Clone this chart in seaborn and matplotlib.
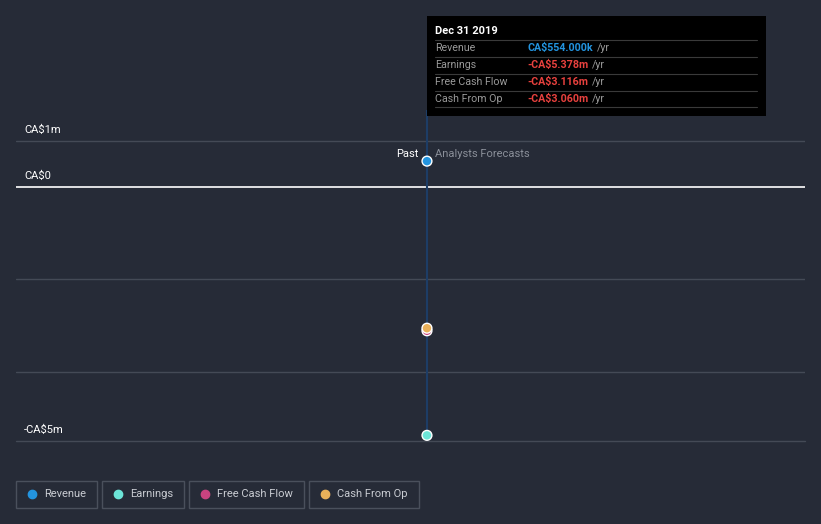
import matplotlib
matplotlib.use("Agg")
import matplotlib.pyplot as plt
from matplotlib.patches import Rectangle
from matplotlib.lines import Line2D
import seaborn as sns
import pandas as pd

# Data (CA$ millions, Dec 31 2019)
series = ["Revenue", "Earnings", "Free Cash Flow", "Cash From Op"]
values = [0.554, -5.378, -3.116, -3.060]
value_labels = ["CA\\$554.000k", "-CA\\$5.378m", "-CA\\$3.116m", "-CA\\$3.060m"]
colors = ["#2394df", "#6ce5d8", "#c8437f", "#e8b05a"]
date_label = "Dec 31 2019"
x_pos = [2019.99]
grid_vals = [1, 0, -2, -4]
tick_vals = [1, 0, -5.5]
tick_labels = ["CA\\$1m", "CA\\$0", "-CA\\$5m"]

bg = "#262b37"
W, H = 821, 524

sns.set_theme(style="dark")
plt.rcParams["font.family"] = ["Roboto", "DejaVu Sans"]

fig = plt.figure(figsize=(W / 100, H / 100), dpi=100, facecolor=bg)

def fx(px):
    return px / W

def fy(py):
    return 1 - py / H

# axes: x 16..805 px, y 110..441 px
ax = fig.add_axes([fx(16), fy(441), fx(805) - fx(16), fy(110) - fy(441)])
ax.set_facecolor(bg)
ax.set_ylim(-5.5, 1.66)
ax.set_xlim(2015.0, 2024.58)
for s in ax.spines.values():
    s.set_visible(False)
ax.set_xticks([])
ax.set_yticks([])
ax.grid(False)

for g in grid_vals:
    ax.axhline(g, color="white" if g == 0 else "#444a56", lw=1.2 if g == 0 else 1, zorder=1)
ax.axhline(-5.5, color="#444a56", lw=1, zorder=1, clip_on=False)

for v, lab in zip(tick_vals, tick_labels):
    ax.annotate(lab, xy=(0, v), xycoords=("axes fraction", "data"),
                xytext=(5.8, 4), textcoords="offset points", color="white",
                fontsize=8, va="bottom", ha="left")

# vertical "now" line
ax.axvline(x_pos[0], color="#1d3d66", lw=1.5, zorder=2, ymax=1.0)

df = pd.DataFrame({"x": x_pos * len(series), "y": values, "series": series})
# draw in order so Cash From Op sits on top of Free Cash Flow
sns.scatterplot(data=df, x="x", y="y", hue="series", palette=colors,
                hue_order=series, s=50, edgecolor="white", linewidth=1,
                legend=False, ax=ax, zorder=5)
ax.set_xlabel("")
ax.set_ylabel("")

ax.annotate("Past", xy=(x_pos[0], 0.554), xytext=(-6, 1.5), textcoords="offset points",
            color="white", fontsize=8, ha="right", va="bottom")
ax.annotate("Analysts Forecasts", xy=(x_pos[0], 0.554), xytext=(6, 1.5),
            textcoords="offset points", color="#8a8f99", fontsize=8,
            ha="left", va="bottom")

# tooltip
fig.patches.append(Rectangle((fx(427), fy(116)), fx(766) - fx(427), fy(16) - fy(116),
                             transform=fig.transFigure, facecolor="black",
                             edgecolor="none", zorder=10))
fig.text(fx(435), fy(31), date_label, color="white", fontsize=8, fontweight="bold",
         va="center", ha="left", zorder=11)
for i, (name, lab) in enumerate(zip(series, value_labels)):
    yy = 48 + i * 17
    fig.lines.append(Line2D([fx(435), fx(757)], [fy(yy - 8), fy(yy - 8)],
                            transform=fig.transFigure, color="#3a3a3a", lw=0.8, zorder=11))
    fig.text(fx(435), fy(yy), name, color="#9a9a9a", fontsize=7.7, va="center", zorder=11)
    c = colors[0] if i == 0 else "#e8413e"
    t = fig.text(fx(527), fy(yy), lab, color=c, fontsize=7.7, fontweight="bold",
                 va="center", zorder=11)
    fig.canvas.draw()
    bb = t.get_window_extent()
    fig.text(bb.x1 / W + fx(4), fy(yy), "/yr", color="#9a9a9a", fontsize=7.7,
             va="center", zorder=11)
fig.lines.append(Line2D([fx(435), fx(757)], [fy(107), fy(107)],
                        transform=fig.transFigure, color="#3a3a3a", lw=0.8, zorder=11))

# legend boxes
boxes = [(16, 97), (102, 184), (189, 304), (309, 419)]
for (x0, x1), name, c in zip(boxes, series, colors):
    fig.patches.append(Rectangle((fx(x0), fy(508)), fx(x1) - fx(x0), fy(481) - fy(508),
                                 transform=fig.transFigure, facecolor="none",
                                 edgecolor="#4a505c", lw=1))
    fig.lines.append(Line2D([fx(x0 + 16)], [fy(494)], transform=fig.transFigure,
                            marker="o", markersize=6, color=c, lw=0))
    fig.text(fx(x0 + 28), fy(494), name, color="#c9ccd2", fontsize=8, va="center")

fig.savefig("out.png", dpi=100, facecolor=bg)
